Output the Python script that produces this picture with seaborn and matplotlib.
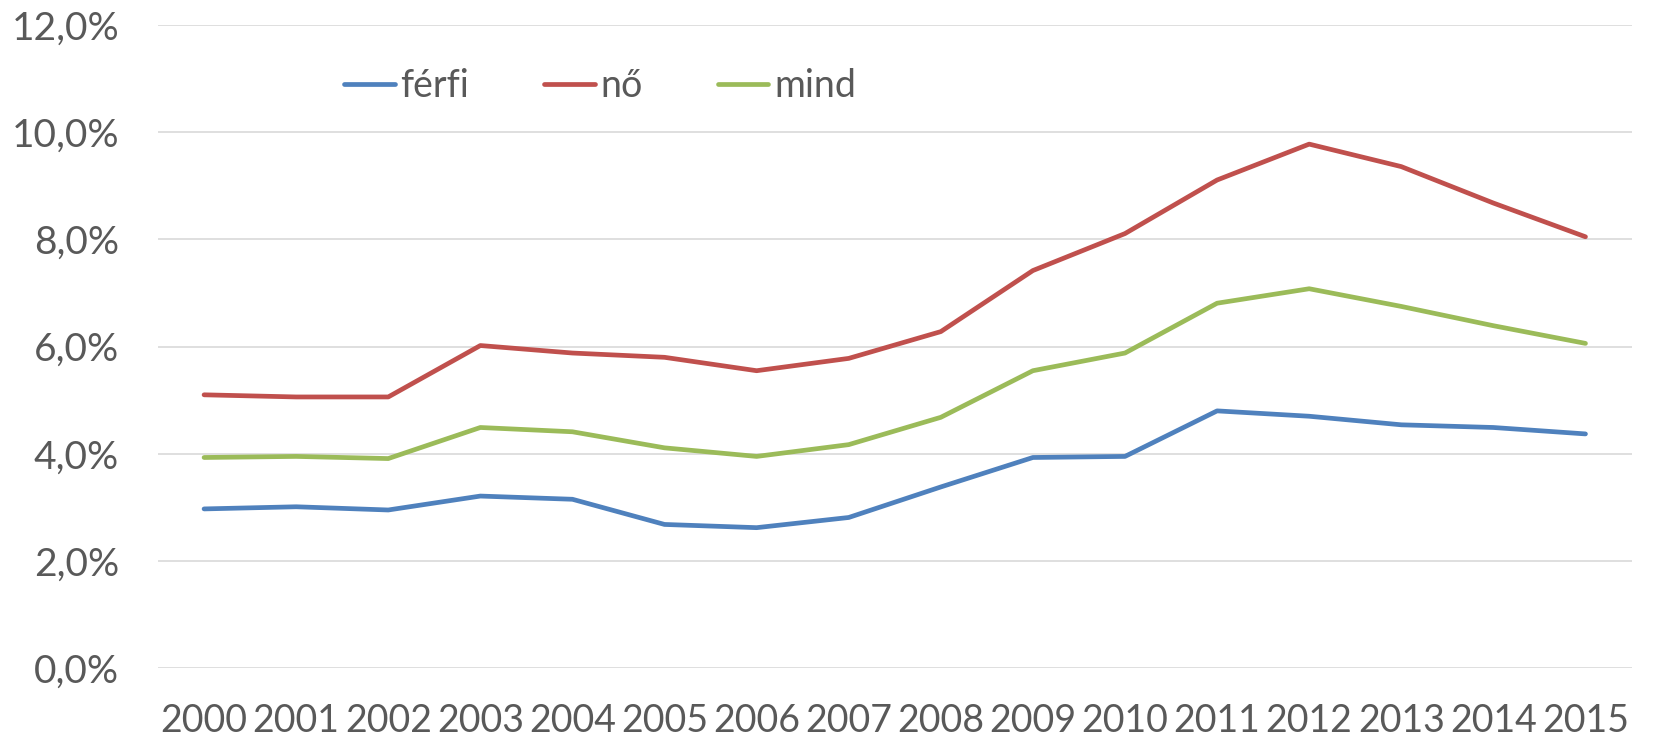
import numpy as np
import pandas as pd
import matplotlib
matplotlib.use("Agg")
import matplotlib.pyplot as plt
import seaborn as sns
from matplotlib.ticker import FuncFormatter

years = list(range(2000, 2016))
ferfi = [2.97, 3.01, 2.95, 3.21, 3.15, 2.68, 2.62, 2.81, 3.38, 3.93, 3.95, 4.80, 4.70, 4.54, 4.49, 4.37]
no = [5.10, 5.06, 5.06, 6.02, 5.88, 5.80, 5.55, 5.78, 6.28, 7.42, 8.11, 9.11, 9.78, 9.36, 8.68, 8.05]
mind = [3.93, 3.95, 3.91, 4.49, 4.41, 4.11, 3.95, 4.17, 4.68, 5.55, 5.88, 6.81, 7.08, 6.75, 6.39, 6.06]

df = pd.DataFrame({"év": years * 3,
                   "érték": ferfi + no + mind,
                   "csoport": ["férfi"] * 16 + ["nő"] * 16 + ["mind"] * 16})

sns.set_style("white")
plt.rcParams["font.family"] = ["Lato", "DejaVu Sans"]
text_color = "#595959"

fig = plt.figure(figsize=(16.53, 7.41), dpi=100)
ax = fig.add_axes([0.0956, 0.0985, 0.8914, 0.8675])

palette = {"férfi": "#4F81BD", "nő": "#C0504D", "mind": "#9BBB59"}
sns.lineplot(data=df, x="év", y="érték", hue="csoport", palette=palette,
             linewidth=3.4, ax=ax)

ax.set_xlim(1999.5, 2015.5)
ax.set_ylim(0, 12)
ax.set_yticks(np.arange(0, 13, 2))
ax.set_xticks(years)
ax.yaxis.set_major_formatter(FuncFormatter(lambda v, p: f"{v:.1f}%".replace(".", ",")))
ax.grid(axis="y", color="#D9D9D9", linewidth=1.2)
ax.set_axisbelow(True)
for s in ax.spines.values():
    s.set_visible(False)
ax.tick_params(axis="both", length=0, labelsize=27, colors=text_color)
ax.tick_params(axis="y", labelsize=28, pad=28)
ax.tick_params(axis="x", pad=25)
ax.set_xlabel("")
ax.set_ylabel("")

leg = ax.legend(loc="center", bbox_to_anchor=(0.30, 0.905), ncol=3, frameon=False,
                fontsize=27, handlelength=1.35, handletextpad=0.15, columnspacing=2.0)
for t in leg.get_texts():
    t.set_color(text_color)

fig.savefig("out.png", dpi=100)
